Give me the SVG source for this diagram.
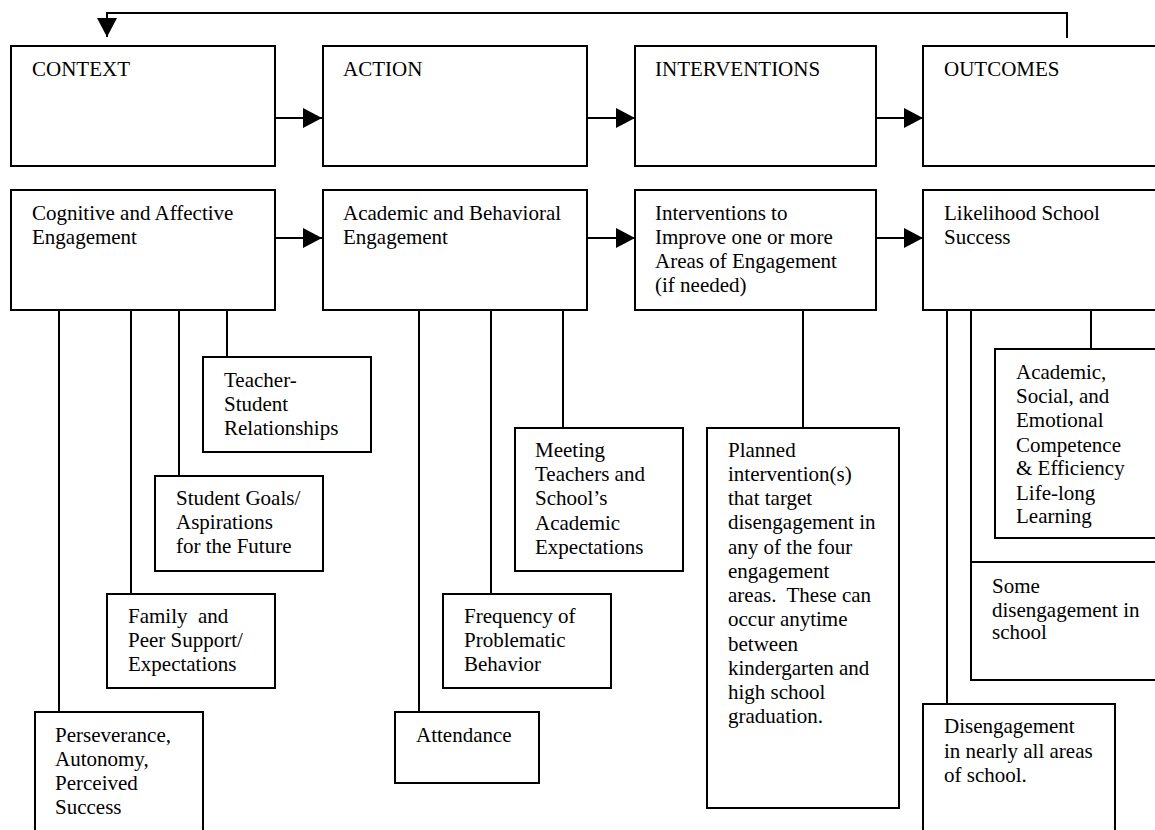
<svg xmlns="http://www.w3.org/2000/svg" width="1155" height="830" viewBox="0 0 1155 830">
  <style>
    .box { fill: #fff; stroke: #000; stroke-width: 2; }
    .link { fill: none; stroke: #000; stroke-width: 2; }
    text { font-family: 'Liberation Serif', 'DejaVu Serif', 'Noto Serif', serif; font-size: 21px; fill: #000; }
  </style>
  <defs>
    <marker id="arrow" markerUnits="userSpaceOnUse" markerWidth="20" markerHeight="22" refX="19" refY="10" orient="auto">
      <polygon points="0,0 19,10 0,20" fill="#000"/>
    </marker>
  </defs>

  <rect width="1155" height="830" fill="#fff"/>

  <!-- connectors -->
  <g id="connectors">
    <!-- feedback loop from outcomes back to context -->
    <polyline class="link" points="1067,38 1067,13 107,13 107,37" marker-end="url(#arrow)"/>
    <!-- header row arrows -->
    <line class="link" x1="275" y1="118" x2="322" y2="118" marker-end="url(#arrow)"/>
    <line class="link" x1="587" y1="118" x2="635" y2="118" marker-end="url(#arrow)"/>
    <line class="link" x1="876" y1="118" x2="923" y2="118" marker-end="url(#arrow)"/>
    <!-- engagement row arrows -->
    <line class="link" x1="275" y1="238" x2="322" y2="238" marker-end="url(#arrow)"/>
    <line class="link" x1="587" y1="238" x2="635" y2="238" marker-end="url(#arrow)"/>
    <line class="link" x1="876" y1="238" x2="923" y2="238" marker-end="url(#arrow)"/>
    <!-- context branches -->
    <line class="link" x1="59" y1="310" x2="59" y2="712"/>
    <line class="link" x1="131" y1="310" x2="131" y2="594"/>
    <line class="link" x1="179" y1="310" x2="179" y2="476"/>
    <line class="link" x1="227" y1="310" x2="227" y2="357"/>
    <!-- action branches -->
    <line class="link" x1="419" y1="310" x2="419" y2="712"/>
    <line class="link" x1="491" y1="310" x2="491" y2="594"/>
    <line class="link" x1="563" y1="310" x2="563" y2="428"/>
    <!-- intervention branch -->
    <line class="link" x1="803" y1="310" x2="803" y2="428"/>
    <!-- outcome branches -->
    <line class="link" x1="947" y1="310" x2="947" y2="704"/>
    <line class="link" x1="971" y1="300" x2="971" y2="562"/>
    <line class="link" x1="1091" y1="310" x2="1091" y2="357"/>
  </g>

  <!-- header row -->
  <g id="context">
    <rect class="box" x="11" y="46" width="264" height="120"/>
    <text x="32" y="76">CONTEXT</text>
  </g>
  <g id="action">
    <rect class="box" x="323" y="46" width="264" height="120"/>
    <text x="343" y="76">ACTION</text>
  </g>
  <g id="interventions">
    <rect class="box" x="635" y="46" width="241" height="120"/>
    <text x="655" y="76">INTERVENTIONS</text>
  </g>
  <g id="outcomes">
    <rect class="box" x="923" y="46" width="260" height="120"/>
    <text x="944" y="76">OUTCOMES</text>
  </g>

  <!-- engagement row -->
  <g id="cognitive">
    <rect class="box" x="11" y="190" width="264" height="120"/>
    <text x="32" y="220">Cognitive and Affective</text>
    <text x="32" y="244">Engagement</text>
  </g>
  <g id="academic-behavioral">
    <rect class="box" x="323" y="190" width="264" height="120"/>
    <text x="343" y="220">Academic and Behavioral</text>
    <text x="343" y="244">Engagement</text>
  </g>
  <g id="improve">
    <rect class="box" x="635" y="190" width="241" height="120"/>
    <text x="655" y="220">Interventions to</text>
    <text x="655" y="244">Improve one or more</text>
    <text x="655" y="268">Areas of Engagement</text>
    <text x="655" y="292">(if needed)</text>
  </g>
  <g id="likelihood">
    <rect class="box" x="923" y="190" width="260" height="120"/>
    <text x="944" y="220">Likelihood School</text>
    <text x="944" y="244">Success</text>
  </g>

  <!-- context details -->
  <g id="teacher-student">
    <rect class="box" x="203" y="357" width="168" height="95"/>
    <text x="224" y="387">Teacher-</text>
    <text x="224" y="411">Student</text>
    <text x="224" y="435">Relationships</text>
  </g>
  <g id="student-goals">
    <rect class="box" x="155" y="476" width="168" height="95"/>
    <text x="176" y="505">Student Goals/</text>
    <text x="176" y="529">Aspirations</text>
    <text x="176" y="553">for the Future</text>
  </g>
  <g id="family-peer">
    <rect class="box" x="107" y="594" width="168" height="94"/>
    <text x="128" y="623" xml:space="preserve">Family  and</text>
    <text x="128" y="647">Peer Support/</text>
    <text x="128" y="671">Expectations</text>
  </g>
  <g id="perseverance">
    <rect class="box" x="35" y="712" width="168" height="130"/>
    <text x="55" y="742">Perseverance,</text>
    <text x="55" y="766">Autonomy,</text>
    <text x="55" y="790">Perceived</text>
    <text x="55" y="814">Success</text>
  </g>

  <!-- action details -->
  <g id="meeting-expectations">
    <rect class="box" x="515" y="428" width="168" height="143"/>
    <text x="535" y="457">Meeting</text>
    <text x="535" y="481">Teachers and</text>
    <text x="535" y="505">School’s</text>
    <text x="535" y="530">Academic</text>
    <text x="535" y="554">Expectations</text>
  </g>
  <g id="problem-behavior">
    <rect class="box" x="443" y="594" width="168" height="94"/>
    <text x="464" y="623">Frequency of</text>
    <text x="464" y="647">Problematic</text>
    <text x="464" y="671">Behavior</text>
  </g>
  <g id="attendance">
    <rect class="box" x="395" y="712" width="144" height="71"/>
    <text x="416" y="742">Attendance</text>
  </g>

  <!-- intervention detail -->
  <g id="planned-intervention">
    <rect class="box" x="707" y="428" width="192" height="380"/>
    <text x="728" y="457">Planned</text>
    <text x="728" y="481">intervention(s)</text>
    <text x="728" y="505">that target</text>
    <text x="728" y="529">disengagement in</text>
    <text x="728" y="554">any of the four</text>
    <text x="728" y="578">engagement</text>
    <text x="728" y="602" xml:space="preserve">areas.  These can</text>
    <text x="728" y="626">occur anytime</text>
    <text x="728" y="651">between</text>
    <text x="728" y="675">kindergarten and</text>
    <text x="728" y="699">high school</text>
    <text x="728" y="723">graduation.</text>
  </g>

  <!-- outcome details -->
  <g id="competence">
    <rect class="box" x="995" y="349" width="190" height="189"/>
    <text x="1016" y="379">Academic,</text>
    <text x="1016" y="403">Social, and</text>
    <text x="1016" y="427">Emotional</text>
    <text x="1016" y="452">Competence</text>
    <text x="1016" y="475">&amp; Efficiency</text>
    <text x="1016" y="500">Life-long</text>
    <text x="1016" y="523">Learning</text>
  </g>
  <g id="some-disengagement">
    <rect class="box" x="971" y="562" width="214" height="118"/>
    <text x="992" y="593">Some</text>
    <text x="992" y="617">disengagement in</text>
    <text x="992" y="639">school</text>
  </g>
  <g id="disengagement">
    <rect class="box" x="923" y="704" width="192" height="140"/>
    <text x="944" y="733">Disengagement</text>
    <text x="944" y="758">in nearly all areas</text>
    <text x="944" y="782">of school.</text>
  </g>
</svg>
